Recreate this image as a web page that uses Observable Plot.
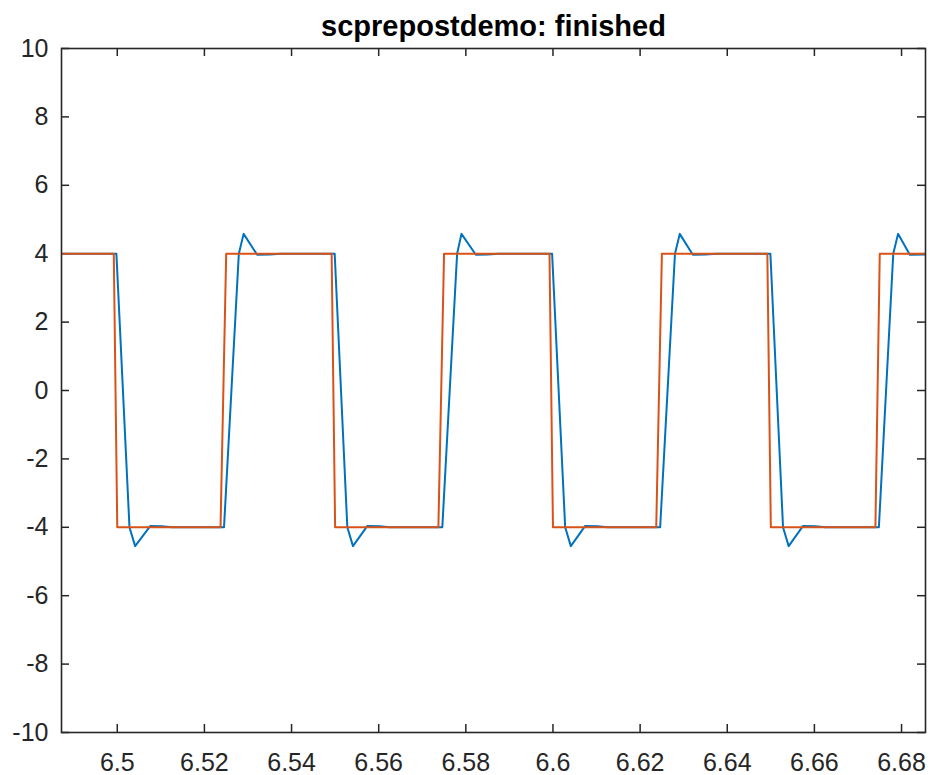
<!DOCTYPE html>
<html>
<head>
<meta charset="utf-8">
<script src="https://cdn.jsdelivr.net/npm/d3@7"></script>
<script src="https://cdn.jsdelivr.net/npm/@observablehq/plot@0.6"></script>
<style>
  html, body { margin: 0; padding: 0; background: #ffffff; }
</style>
</head>
<body>
<div id="chart"></div>
<script>
const titleText = "scprepostdemo: finished";

// Filtered (blue) signal: time and value
const blueT = [
  6.4872,
  6.4998, 6.5028, 6.5041, 6.5076, 6.5102, 6.5125,
  6.5245, 6.5279, 6.5290, 6.5321, 6.5350, 6.5375,
  6.5499, 6.5528, 6.5541, 6.5574, 6.5602, 6.5625,
  6.5746, 6.5780, 6.5790, 6.5823, 6.5850, 6.5875,
  6.5998, 6.6028, 6.6041, 6.6074, 6.6102, 6.6125,
  6.6246, 6.6280, 6.6291, 6.6321, 6.6350, 6.6375,
  6.6499, 6.6528, 6.6541, 6.6574, 6.6602, 6.6625,
  6.6748, 6.6781, 6.6792, 6.6819, 6.6855
];
const blueV = [
  4,
  4, -4, -4.55, -3.96, -3.97, -4,
  -4, 4, 4.58, 3.97, 3.98, 4,
  4, -4, -4.55, -3.96, -3.97, -4,
  -4, 4, 4.58, 3.97, 3.98, 4,
  4, -4, -4.55, -3.96, -3.97, -4,
  -4, 4, 4.58, 3.97, 3.98, 4,
  4, -4, -4.55, -3.96, -3.97, -4,
  -4, 4, 4.58, 3.97, 3.98
];

// Square-wave (orange) signal: time and value
const orangeT = [
  6.4872, 6.4992, 6.5000, 6.5237, 6.5250, 6.5492, 6.5500, 6.5737, 6.5750,
  6.5992, 6.6000, 6.6237, 6.6250, 6.6492, 6.6500, 6.6740, 6.6750, 6.6855
];
const orangeV = [
  4, 4, -4, -4, 4, 4, -4, -4, 4,
  4, -4, -4, 4, 4, -4, -4, 4, 4
];

const xTicks = [6.5, 6.52, 6.54, 6.56, 6.58, 6.6, 6.62, 6.64, 6.66, 6.68];
const xTickLabels = ["6.5", "6.52", "6.54", "6.56", "6.58", "6.6", "6.62", "6.64", "6.66", "6.68"];
const yTicks = [-10, -8, -6, -4, -2, 0, 2, 4, 6, 8, 10];
const yTickLabels = ["-10", "-8", "-6", "-4", "-2", "0", "2", "4", "6", "8", "10"];

const xDomain = [6.4872, 6.6855];
const yDomain = [-10, 10];

const blue = blueT.map((t, i) => ({t, v: blueV[i]}));
const orange = orangeT.map((t, i) => ({t, v: orangeV[i]}));

const W = 932, H = 775;
const mTop = 48, mBottom = 43, mLeft = 61, mRight = 7;
const plotH = H - mTop - mBottom;
const plotW = W - mLeft - mRight;
const tickLen = 8;
const axisColor = "#262626";
const font = "'Liberation Sans', Arial, Helvetica, sans-serif";

const chart = Plot.plot({
  width: W,
  height: H,
  marginTop: mTop,
  marginBottom: mBottom,
  marginLeft: mLeft,
  marginRight: mRight,
  style: {fontFamily: font, fontSize: "25px", color: axisColor, background: "#ffffff"},
  x: {domain: xDomain, ticks: xTicks, label: null},
  y: {domain: yDomain, ticks: yTicks, label: null},
  marks: [
    Plot.axisX(xTicks, {
      label: null, tickSize: 0, tickPadding: 21, fontSize: 25, fill: axisColor,
      tickFormat: (d) => xTickLabels[xTicks.indexOf(d)]
    }),
    Plot.axisY(yTicks, {
      label: null, tickSize: 0, tickPadding: 13, fontSize: 25, fill: axisColor,
      tickFormat: (d) => yTickLabels[yTicks.indexOf(d)]
    }),
    // inward ticks on all four sides
    Plot.tickX(xTicks, {x: d => d, insetTop: plotH - tickLen, stroke: axisColor, strokeWidth: 1.5}),
    Plot.tickX(xTicks, {x: d => d, insetBottom: plotH - tickLen, stroke: axisColor, strokeWidth: 1.5}),
    Plot.tickY(yTicks, {y: d => d, insetRight: plotW - tickLen, stroke: axisColor, strokeWidth: 1.5}),
    Plot.tickY(yTicks, {y: d => d, insetLeft: plotW - tickLen, stroke: axisColor, strokeWidth: 1.5}),
    Plot.line(blue, {x: "t", y: "v", stroke: "#0072BD", strokeWidth: 2, clip: true}),
    Plot.line(orange, {x: "t", y: "v", stroke: "#D95319", strokeWidth: 2, clip: true}),
    Plot.frame({stroke: axisColor, strokeWidth: 1.6}),
    Plot.text([titleText], {
      frameAnchor: "top", dy: -13, lineAnchor: "bottom",
      text: d => d, fontSize: 29, fontWeight: "bold", fill: "#000000"
    })
  ]
});

document.getElementById("chart").appendChild(chart);
</script>
</body>
</html>
